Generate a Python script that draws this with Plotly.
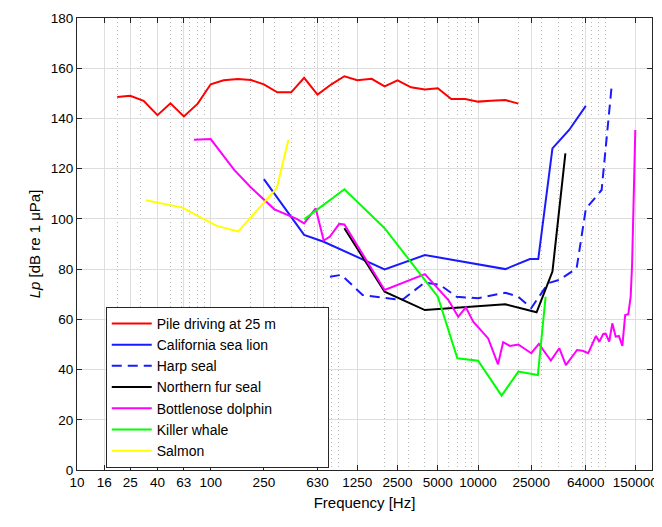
import math
import plotly.graph_objects as go

# pile driving at 25 m (1/3 octave bands)
pile_f = [20, 25, 31.5, 40, 50, 63, 80, 100, 125, 160, 200, 250, 315, 400, 500, 630, 800,
          1000, 1250, 1600, 2000, 2500, 3150, 4000, 5000, 6300, 8000, 10000, 12500, 16000, 20000]
pile_db = [148.5, 149, 147, 141.3, 146, 140.8, 145.9, 153.6, 155.2, 155.7, 155.3, 153.6, 150.4,
           150.4, 156.2, 149.5, 153.6, 156.8, 155.2, 155.8, 152.8, 155.2, 152.4, 151.5, 152,
           147.7, 147.7, 146.7, 147, 147.3, 145.9]

sealion_f = [250, 500, 700, 2000, 4000, 16000, 24400, 28200, 36000, 48000, 64000]
sealion_db = [115.8, 93.6, 90.9, 79.9, 85.6, 80, 84, 84, 128.1, 135.4, 145]

harp_f = [780, 950, 1370, 2400, 2750, 4000, 5200, 6900, 10000, 16000, 20000, 25000, 33500,
          40500, 54600, 64000, 84000, 100000]
harp_db = [77, 77.7, 69.7, 68, 68, 74.7, 73.7, 69, 68.4, 70.6, 69, 64.5, 74.4,
           75.7, 80.3, 104, 111.5, 153.3]

furseal_f = [1000, 2000, 4000, 16000, 27400, 36000, 45000]
furseal_db = [96.3, 71, 63.7, 66, 62.8, 79, 126.1]

dolphin_f = [75, 100, 150, 200, 300, 440, 500, 610, 700, 780, 915, 1000, 2000, 4000, 6000,
             7100, 8100, 9200, 11900, 14100, 15400, 17300, 20000, 25000, 28500, 35000, 40500,
             45400, 55000, 60500, 66700, 76200, 80700, 86400, 90000, 95700, 101000, 107000,
             113000, 120000, 126000, 133000, 138500, 142000, 150000]
dolphin_db = [131.5, 131.8, 119.5, 112.5, 103.8, 100, 98.2, 104.2, 91.4, 93, 98, 97.8, 71.7,
              78, 67.7, 61, 64.8, 59.1, 52.4, 42.1, 50.9, 49.4, 50, 46.5, 50.2, 43.6, 48.5,
              41.8, 47.8, 47.5, 46.5, 53.4, 51.1, 54.2, 54.3, 51.1, 58.4, 53.1, 53.4, 49.4,
              61.7, 62, 69, 82, 135.4]

killer_f = [500, 1000, 2000, 5000, 7000, 10000, 15000, 20000, 28000, 32000]
killer_db = [99.8, 111.8, 96.3, 69, 44.5, 43.5, 29.6, 39.2, 37.8, 69]

salmon_f = [32.7, 60.7, 111, 161, 312, 381]
salmon_db = [107.4, 104.6, 97.2, 95, 112.2, 131.4]

xticks = [10, 16, 25, 40, 63, 100, 250, 630, 1250, 2500, 5000, 10000, 25000, 64000, 150000]

minor = [m * 10 ** k for k in range(1, 6) for m in range(2, 10)]
minor = [v for v in minor if v not in xticks and v <= 200000]

# trailing nbsp on the longest name widens the legend box like the original
series = [
    ("Pile driving at 25 m" + "\u00a0" * 12, pile_f, pile_db, "#ff0000", "solid"),
    ("California sea lion", sealion_f, sealion_db, "#1a1aff", "solid"),
    ("Harp seal", harp_f, harp_db, "#1a1aff", "10px,6px"),
    ("Northern fur seal", furseal_f, furseal_db, "#000000", "solid"),
    ("Bottlenose dolphin", dolphin_f, dolphin_db, "#ff00ff", "solid"),
    ("Killer whale", killer_f, killer_db, "#00ff00", "solid"),
    ("Salmon", salmon_f, salmon_db, "#ffff00", "solid"),
]

fig = go.Figure()
for name, f, db, col, dash in series:
    fig.add_trace(go.Scatter(x=f, y=db, mode="lines", name=name,
                             line=dict(color=col, width=2, dash=dash)))

axis_common = dict(
    showline=True, linecolor="#262626", linewidth=1, mirror="allticks",
    ticks="inside", ticklen=5, tickcolor="#262626", automargin=False,
    showgrid=True, gridcolor="#dedede", gridwidth=1, zeroline=False,
    tickfont=dict(size=13.5, color="#000000"),
)

fig.update_xaxes(type="log", range=[1, math.log10(200000)],
                 tickmode="array", tickvals=xticks, ticktext=[str(v) for v in xticks],
                 minor=dict(tickmode="array", tickvals=minor, showgrid=True,
                            griddash="1px,3px", gridcolor="#b8b8b8", ticks=""),
                 title=dict(text="Frequency [Hz]", font=dict(size=15, color="#000000"), standoff=8),
                 **axis_common)
fig.update_yaxes(range=[0, 180], tickmode="array", tickvals=list(range(0, 181, 20)),
                 title=dict(text="<i>Lp</i> [dB re 1 μPa]", font=dict(size=15, color="#000000"), standoff=6),
                 **axis_common)

# page body has an 8px margin, so the figure is a bit smaller than the window
fig.update_layout(
    width=654, height=519,
    margin=dict(l=69, r=10, t=10, b=57, autoexpand=False),
    paper_bgcolor="white", plot_bgcolor="white",
    font=dict(family="Arial, Liberation Sans, sans-serif", color="#000000"),
    legend=dict(x=0.05, y=0.361, xanchor="left", yanchor="top",
                bgcolor="white", bordercolor="#262626", borderwidth=1,
                font=dict(size=14), tracegroupgap=0, itemwidth=40),
    showlegend=True,
)

fig.write_html("out.html")
